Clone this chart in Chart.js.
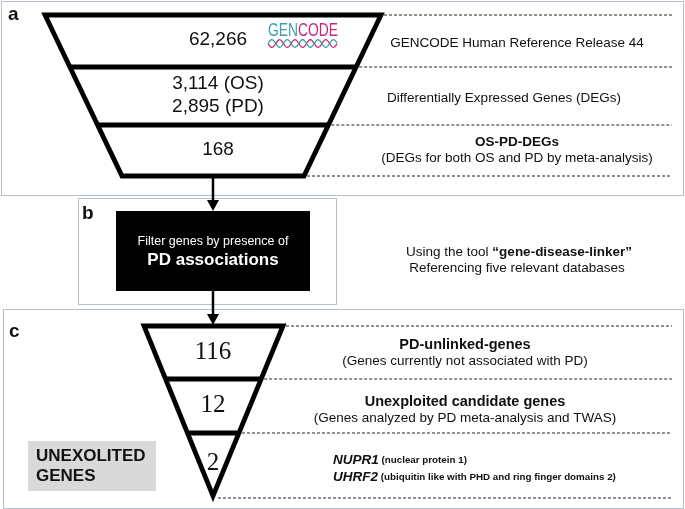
<!DOCTYPE html>
<html>
<head>
<meta charset="utf-8">
<script src="https://cdn.jsdelivr.net/npm/chart.js@4.4.0/dist/chart.umd.min.js"></script>
<style>
html, body { margin: 0; padding: 0; background: #fff; }
#wrap { width: 685px; height: 509px; }
</style>
</head>
<body>
<div id="wrap"><canvas id="funnelChart" width="685" height="509"></canvas></div>
<script>
// panel a - gene counts per funnel stage
const stageCountsA = [['62,266'], ['3,114 (OS)', '2,895 (PD)'], ['168']];
const stageTitlesA = ['', '', 'OS-PD-DEGs'];
const stageNotesA = ['GENCODE Human Reference Release 44', 'Differentially Expressed Genes (DEGs)', '(DEGs for both OS and PD by meta-analysis)'];
const logoParts = ['GEN', 'CODE'];

// panel b - filter step
const filterLines = ['Filter genes by presence of', 'PD associations'];
const toolLine = ['Using the tool ', '\u201Cgene-disease-linker\u201D'];
const toolNote = 'Referencing five relevant databases';

// panel c - remaining genes
const stageCountsC = [116, 12, 2];
const stageTitlesC = ['PD-unlinked-genes', 'Unexploited candidate genes', ''];
const stageNotesC = ['(Genes currently not associated with PD)', '(Genes analyzed by PD meta-analysis and TWAS)', ''];
const geneSymbols = ['NUPR1', 'UHRF2'];
const geneNames = ['(nuclear protein 1)', '(ubiquitin like with PHD and ring finger domains 2)'];
const panelLetters = ['a', 'b', 'c'];
const badgeLines = ['UNEXOLITED', 'GENES'];

const SANS = '"Liberation Sans", Arial, Helvetica, sans-serif';
const SERIF = '"Liberation Serif", "Times New Roman", serif';
const TEAL = '#3a9fa6';
const MAGENTA = '#c8287c';

// layout (canvas units)
const funnelA = { rows: [15, 67, 125, 176], topL: 45, topR: 381, botL: 122, botR: 304 };
const funnelC = { rows: [326, 379, 433, 496], topL: 144, topR: 283, apexX: 213 };
const dashEnd = 672;
const descXA = [517, 504, 517];
const descXC = 465;

function lerp(a, b, t) { return a + (b - a) * t; }

const diagramPlugin = {
    id: 'diagram',
    afterDraw(chart) {
        const ctx = chart.ctx;
        const sx = (v) => chart.scales.x.getPixelForValue(v);
        const sy = (v) => chart.scales.y.getPixelForValue(v);

        function line(x1, y1, x2, y2, width, color, dash) {
            ctx.save();
            ctx.beginPath();
            ctx.lineWidth = width;
            ctx.strokeStyle = color;
            ctx.setLineDash(dash || []);
            ctx.moveTo(sx(x1), sy(y1));
            ctx.lineTo(sx(x2), sy(y2));
            ctx.stroke();
            ctx.restore();
        }
        function rect(x1, y1, x2, y2) {
            ctx.save();
            ctx.beginPath();
            ctx.lineWidth = 1;
            ctx.strokeStyle = '#6f7f9c';
            ctx.setLineDash([1, 1]);
            ctx.strokeRect(sx(x1) + 0.5, sy(y1) + 0.5, sx(x2) - sx(x1), sy(y2) - sy(y1));
            ctx.restore();
        }
        function text(str, x, y, font, color, align) {
            ctx.save();
            ctx.font = font;
            ctx.fillStyle = color || '#111';
            ctx.textAlign = align || 'center';
            ctx.textBaseline = 'middle';
            ctx.fillText(str, sx(x), sy(y));
            ctx.restore();
        }
        // runs: [[str, font], ...] centred or left aligned at x
        function runs(parts, x, y, align) {
            ctx.save();
            ctx.textBaseline = 'middle';
            ctx.fillStyle = '#111';
            let total = 0;
            parts.forEach(p => { ctx.font = p[1]; total += ctx.measureText(p[0]).width; });
            let cx = align === 'left' ? sx(x) : sx(x) - total / 2;
            parts.forEach(p => {
                ctx.font = p[1];
                ctx.textAlign = 'left';
                ctx.fillText(p[0], cx, sy(y));
                cx += ctx.measureText(p[0]).width;
            });
            ctx.restore();
        }
        function arrow(x, y1, y2) {
            line(x, y1, x, y2 - 9, 2.5, '#000');
            ctx.save();
            ctx.fillStyle = '#000';
            ctx.beginPath();
            ctx.moveTo(sx(x - 6), sy(y2 - 11));
            ctx.lineTo(sx(x + 6), sy(y2 - 11));
            ctx.lineTo(sx(x), sy(y2));
            ctx.closePath();
            ctx.fill();
            ctx.restore();
        }

        // panel borders
        rect(1, 1, 683, 195);
        rect(78, 198, 336, 304);
        rect(3, 309, 683, 508);
        text(panelLetters[0], 8, 15, 'bold 19px ' + SANS, '#111', 'left');
        text(panelLetters[1], 82, 214, 'bold 19px ' + SANS, '#111', 'left');
        text(panelLetters[2], 9, 332, 'bold 19px ' + SANS, '#111', 'left');

        // ---- panel a funnel
        const fa = funnelA;
        const hA = fa.rows[3] - fa.rows[0];
        const leftA = (y) => lerp(fa.topL, fa.botL, (y - fa.rows[0]) / hA);
        const rightA = (y) => lerp(fa.topR, fa.botR, (y - fa.rows[0]) / hA);
        ctx.save();
        ctx.beginPath();
        ctx.lineWidth = 4.8;
        ctx.lineJoin = 'miter';
        ctx.strokeStyle = '#000';
        ctx.moveTo(sx(fa.topL), sy(fa.rows[0]));
        ctx.lineTo(sx(fa.topR), sy(fa.rows[0]));
        ctx.lineTo(sx(fa.botR), sy(fa.rows[3]));
        ctx.lineTo(sx(fa.botL), sy(fa.rows[3]));
        ctx.closePath();
        ctx.stroke();
        ctx.restore();
        for (let i = 1; i < 3; i++) {
            const y = fa.rows[i];
            line(leftA(y), y, rightA(y), y, 4.8, '#000');
        }
        fa.rows.forEach(y => line(rightA(y) + 3, y, dashEnd, y, 1, '#222', [3, 2]));

        stageCountsA.forEach((lines, i) => {
            const mid = (fa.rows[i] + fa.rows[i + 1]) / 2;
            const gap = 23;
            lines.forEach((s, k) => {
                const y = mid + (k - (lines.length - 1) / 2) * gap - 1;
                text(s, 218, y, '19px ' + SANS, '#111');
            });
            if (stageTitlesA[i]) {
                text(stageTitlesA[i], descXA[i], mid - 8, 'bold 13.5px ' + SANS, '#111');
                text(stageNotesA[i], descXA[i], mid + 8, '13.5px ' + SANS, '#111');
            } else {
                text(stageNotesA[i], descXA[i], mid + 2, '13.5px ' + SANS, '#111');
            }
        });

        // GENCODE logo
        ctx.save();
        ctx.font = '18px ' + SANS;
        ctx.textBaseline = 'middle';
        const wGen = ctx.measureText(logoParts[0]).width;
        const wAll = ctx.measureText(logoParts[0] + logoParts[1]).width;
        const logoX = sx(268), logoW = 70;
        ctx.translate(logoX, sy(31));
        ctx.scale(logoW / wAll, 1);
        ctx.fillStyle = TEAL;
        ctx.fillText(logoParts[0], 0, 0);
        ctx.fillStyle = MAGENTA;
        ctx.fillText(logoParts[1], wGen, 0);
        ctx.restore();
        [[MAGENTA, 1], [TEAL, -1]].forEach(([col, sgn]) => {
            ctx.save();
            ctx.beginPath();
            ctx.strokeStyle = col;
            ctx.lineWidth = 1.3;
            for (let t = 0; t <= 69; t += 0.5) {
                const px = sx(268 + t);
                const py = sy(43.5 + sgn * 3.8 * Math.sin(t / 7.7 * Math.PI));
                if (t === 0) ctx.moveTo(px, py); else ctx.lineTo(px, py);
            }
            ctx.stroke();
            ctx.restore();
        });

        // ---- arrows and panel b
        arrow(213, fa.rows[3] + 2, 211);
        ctx.fillStyle = '#000';
        ctx.fillRect(sx(116), sy(211), sx(310) - sx(116), sy(291) - sy(211));
        text(filterLines[0], 213, 242, '12.5px ' + SANS, '#fff');
        text(filterLines[1], 213, 260, 'bold 17px ' + SANS, '#fff');
        runs([[toolLine[0], '13.5px ' + SANS], [toolLine[1], 'bold 13.5px ' + SANS]], 519, 252);
        text(toolNote, 517, 268, '13.5px ' + SANS, '#111');
        arrow(213, 291, funnelC.rows[0] - 1);

        // ---- panel c triangle
        const fc = funnelC;
        const apexY = fc.rows[3];
        const hC = apexY - fc.rows[0];
        const leftC = (y) => lerp(fc.topL, fc.apexX, (y - fc.rows[0]) / hC);
        const rightC = (y) => lerp(fc.topR, fc.apexX, (y - fc.rows[0]) / hC);
        ctx.save();
        ctx.beginPath();
        ctx.lineWidth = 4.8;
        ctx.lineJoin = 'miter';
        ctx.miterLimit = 10;
        ctx.strokeStyle = '#000';
        ctx.moveTo(sx(fc.topL), sy(fc.rows[0]));
        ctx.lineTo(sx(fc.topR), sy(fc.rows[0]));
        ctx.lineTo(sx(fc.apexX), sy(apexY));
        ctx.closePath();
        ctx.stroke();
        ctx.restore();
        for (let i = 1; i < 3; i++) {
            const y = fc.rows[i];
            line(leftC(y), y, rightC(y), y, 4.8, '#000');
        }
        [fc.rows[0], fc.rows[1], fc.rows[2]].forEach(y => line(rightC(y) + 3, y, dashEnd, y, 1, '#222', [3, 2]));
        line(fc.apexX + 5, apexY + 2, dashEnd, apexY + 2, 1, '#222', [3, 2]);

        const numY = [352, 405, 463];
        stageCountsC.forEach((n, i) => text(String(n), 213, numY[i], '25px ' + SERIF, '#111'));
        const titleY = [345, 402];
        stageTitlesC.forEach((t, i) => {
            if (!t) return;
            text(t, descXC, titleY[i], 'bold 14.5px ' + SANS, '#111');
            text(stageNotesC[i], descXC, titleY[i] + 16, '13.5px ' + SANS, '#111');
        });
        const geneY = [460, 477];
        geneSymbols.forEach((g, i) => {
            runs([[g, 'italic bold 13.5px ' + SANS], [' ' + geneNames[i], 'bold 9.8px ' + SANS]], 333, geneY[i], 'left');
        });

        // badge
        ctx.fillStyle = '#d9d9d9';
        ctx.fillRect(sx(28), sy(441), sx(156) - sx(28), sy(491) - sy(441));
        text(badgeLines[0], 36, 456, 'bold 17px ' + SANS, '#111', 'left');
        text(badgeLines[1], 36, 476, 'bold 17px ' + SANS, '#111', 'left');
    }
};

new Chart(document.getElementById('funnelChart'), {
    type: 'scatter',
    data: { datasets: [{ data: [], pointRadius: 0 }] },
    options: {
        responsive: false,
        animation: false,
        layout: { padding: 0 },
        plugins: { legend: { display: false }, tooltip: { enabled: false } },
        scales: {
            x: { type: 'linear', min: 0, max: 685, display: false },
            y: { type: 'linear', min: 0, max: 509, reverse: true, display: false }
        }
    },
    plugins: [diagramPlugin]
});
</script>
</body>
</html>
